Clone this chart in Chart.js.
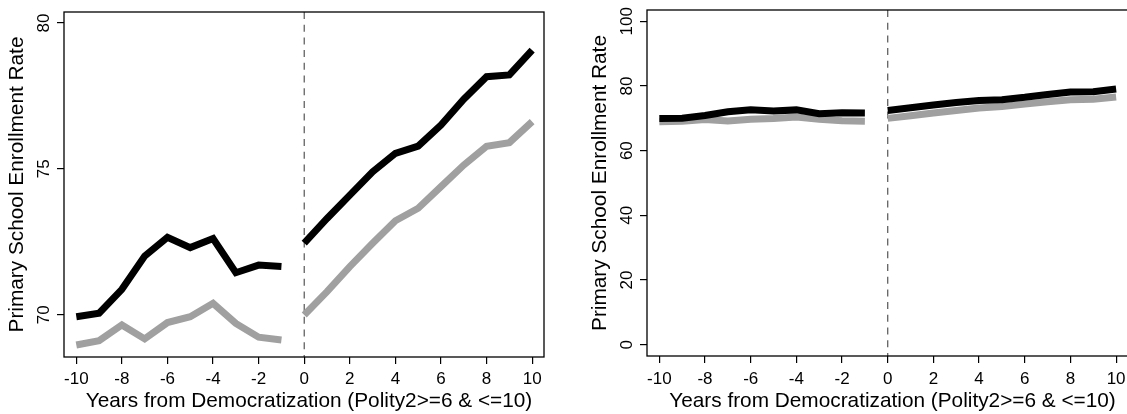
<!DOCTYPE html>
<html>
<head>
<meta charset="utf-8">
<script src="https://cdn.jsdelivr.net/npm/chart.js@4.4.1/dist/chart.umd.min.js"></script>
<style>
html,body{margin:0;padding:0;background:#fff;width:1127px;height:414px;overflow:hidden;position:relative}
canvas{position:absolute;top:0}
#c1{left:0;width:582px;height:414px}
#c2{left:583px;width:560px;height:414px}
</style>
</head>
<body>
<canvas id="c1" width="582" height="414"></canvas>
<canvas id="c2" width="560" height="414"></canvas>
<script>
// ---- data ----
const years = [-10,-9,-8,-7,-6,-5,-4,-3,-2,-1,0,1,2,3,4,5,6,7,8,9,10];
const enrollBlack = [69.93,70.05,70.87,72.01,72.65,72.30,72.61,71.44,71.70,71.65,
                     72.45,73.30,74.10,74.90,75.53,75.78,76.50,77.39,78.16,78.22,79.07];
const enrollGray  = [68.96,69.11,69.65,69.17,69.73,69.93,70.39,69.70,69.23,69.13,
                     69.99,70.79,71.65,72.45,73.22,73.65,74.39,75.13,75.77,75.90,76.62];
const xTicks = [-10,-8,-6,-4,-2,0,2,4,6,8,10];
const yTicksLeft = [70,75,80];
const yTicksRight = [0,20,40,60,80,100];
const xTitle = 'Years from Democratization (Polity2>=6 & <=10)';
const yTitle = 'Primary School Enrollment Rate';

const FONT = '"Liberation Sans", Arial, Helvetica, sans-serif';
const BLACK = '#000000';
const GRAY = '#a0a0a0';

function pts(vals, pre) {
  const out = [];
  years.forEach((yr, i) => { if ((yr < 0) === pre) out.push({x: yr, y: vals[i]}); });
  return out;
}

function lineDs(vals, pre, color, order) {
  return {
    data: pts(vals, pre),
    borderColor: color,
    borderWidth: 7,
    pointRadius: 0,
    tension: 0,
    fill: false,
    borderCapStyle: 'butt',
    borderJoinStyle: 'miter',
    order: order
  };
}

function panelPlugin(titleDx, yTitleX) {
  return {
    id: 'panelDecor',
    beforeDatasetsDraw(chart) {
      const {ctx, chartArea: a, scales: {x}} = chart;
      const px = x.getPixelForValue(0);
      ctx.save();
      ctx.strokeStyle = '#555555';
      ctx.lineWidth = 1.2;
      ctx.setLineDash([7, 5.7]);
      ctx.beginPath();
      ctx.moveTo(px, a.top);
      ctx.lineTo(px, a.bottom);
      ctx.stroke();
      ctx.restore();
    },
    afterDraw(chart) {
      const {ctx, chartArea: a, scales: {y}} = chart;
      ctx.save();
      ctx.strokeStyle = '#000';
      ctx.lineWidth = 1.3;
      ctx.strokeRect(a.left, a.top, a.right - a.left, a.bottom - a.top);
      ctx.fillStyle = '#000';
      ctx.textAlign = 'center';
      ctx.textBaseline = 'middle';
      ctx.font = '17px ' + FONT;
      y.ticks.forEach(t => {
        const py = y.getPixelForValue(t.value);
        ctx.save();
        ctx.translate(a.left - 20, py);
        ctx.rotate(-Math.PI / 2);
        ctx.fillText(String(t.value), 0, 0);
        ctx.restore();
      });
      ctx.font = '20.8px ' + FONT;
      ctx.fillText(xTitle, (a.left + a.right) / 2 + titleDx, 401);
      ctx.save();
      ctx.translate(yTitleX, (a.top + a.bottom) / 2);
      ctx.rotate(-Math.PI / 2);
      ctx.fillText(yTitle, 0, 0);
      ctx.restore();
      ctx.restore();
    }
  };
}

function makeChart(id, yMin, yMax, yTicks, padTop, padRight, xAxisH, yAxisW, tickPad, titleDx, yTitleX) {
  return new Chart(document.getElementById(id), {
    type: 'line',
    data: {
      datasets: [
        lineDs(enrollBlack, true, BLACK, 0),
        lineDs(enrollBlack, false, BLACK, 0),
        lineDs(enrollGray, true, GRAY, 1),
        lineDs(enrollGray, false, GRAY, 1)
      ]
    },
    options: {
      responsive: false,
      animation: false,
      devicePixelRatio: 1,
      layout: {padding: {top: padTop, right: padRight, left: 0, bottom: 0}},
      plugins: {legend: {display: false}, tooltip: {enabled: false}},
      scales: {
        x: {
          type: 'linear',
          min: -10.54, max: 10.52,
          afterBuildTicks: s => { s.ticks = xTicks.map(v => ({value: v})); },
          afterFit: s => { s.height = xAxisH; },
          ticks: {color: '#000', font: {family: FONT, size: 17}, padding: tickPad, maxRotation: 0, autoSkip: false,
                  callback: v => String(v)},
          grid: {drawOnChartArea: false, drawTicks: true, tickLength: 7, color: '#000', lineWidth: 1.2},
          border: {display: false}
        },
        y: {
          type: 'linear',
          min: yMin, max: yMax,
          afterBuildTicks: s => { s.ticks = yTicks.map(v => ({value: v})); },
          afterFit: s => { s.width = yAxisW; },
          ticks: {display: false},
          grid: {drawOnChartArea: false, drawTicks: true, tickLength: 7, color: '#000', lineWidth: 1.2},
          border: {display: false}
        }
      }
    },
    plugins: [panelPlugin(titleDx, yTitleX)]
  });
}

makeChart('c1', 68.55, 80.377, yTicksLeft, 12, 38, 57, 64, 4.8, 5, 17.5);
makeChart('c2', -3.5, 103.5, yTicksRight, 10, 15, 58, 64, 5.8, 5, 17.5);
</script>
</body>
</html>
